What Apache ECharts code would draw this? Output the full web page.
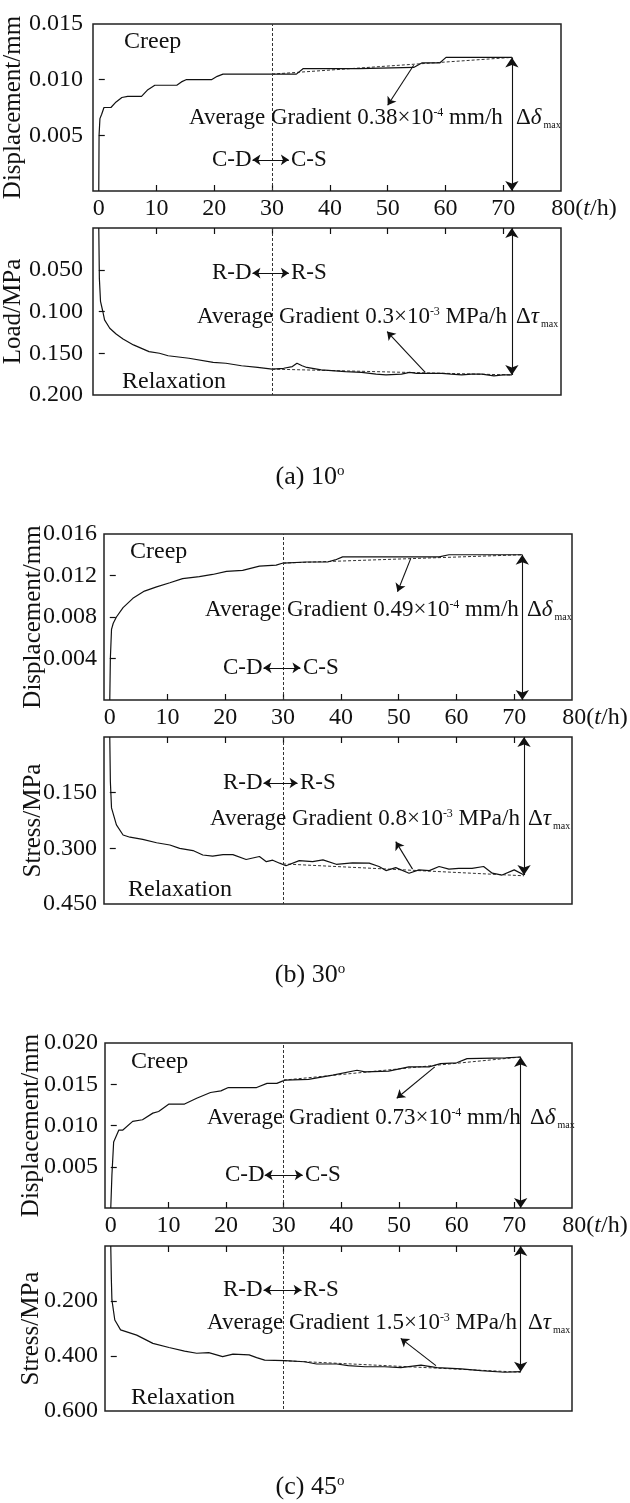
<!DOCTYPE html>
<html>
<head>
<meta charset="utf-8">
<script src="https://cdn.jsdelivr.net/npm/echarts@6/dist/echarts.min.js"></script>
<style>
  html, body { margin: 0; padding: 0; background: #fff; }
  #chart { width: 630px; height: 1503px; }
</style>
</head>
<body>
<div id="chart"></div>
<script>
// time axis (h)
const tLabels = [0, 10, 20, 30, 40, 50, 60, 70, 80];
const tTicks = [10, 20, 30, 40, 50, 60, 70];

// ---- (a) 10 deg ----
const creepA = [[0,0],[0.05,0.005],[0.2,0.0065],[0.5,0.0069],[0.9,0.0075],[2.1,0.0075],[3,0.0080],[4,0.0084],[5,0.0085],[7.4,0.0085],[8.5,0.0091],[9.7,0.0095],[13.5,0.0095],[14.3,0.0098],[15.1,0.0100],[19.5,0.0100],[20.5,0.0103],[21.5,0.0105],[34.2,0.0105],[35.4,0.0110],[45,0.0110],[54.5,0.0111],[55.9,0.0115],[59,0.0115],[60.1,0.0120],[71.5,0.0120]];
const creepTrendA = [[30,0.0105],[71.5,0.0120]];
const relaxA = [[0,0],[0.1,0.060],[0.3,0.088],[0.7,0.100],[1,0.110],[1.9,0.120],[3,0.127],[4.2,0.133],[6,0.140],[8.7,0.148],[10.5,0.150],[12,0.153],[15.6,0.156],[19.8,0.161],[22,0.162],[24.7,0.165],[27.5,0.167],[30,0.169],[32,0.168],[33.5,0.166],[34.3,0.162],[35.2,0.165],[36,0.167],[38.5,0.170],[42.7,0.172],[45.5,0.173],[48,0.175],[49.7,0.176],[52.4,0.175],[53.8,0.173],[55,0.174],[56.6,0.174],[59.4,0.174],[61,0.175],[62.8,0.176],[64.5,0.175],[66.3,0.175],[68.4,0.177],[70,0.176],[71.5,0.176]];
const relaxTrendA = [[30,0.169],[71.5,0.176]];
const creepYLabelsA = [0.005, 0.010, 0.015];
const creepYTicksA = [0.005, 0.010];
const relaxYLabelsA = [0.050, 0.100, 0.150, 0.200];
const relaxYTicksA = [0.050, 0.100, 0.150];

// ---- (b) 30 deg ----
const creepB = [[0,0],[0.1,0.004],[0.3,0.0068],[0.6,0.0074],[1.15,0.0080],[2.3,0.0089],[4,0.0098],[6,0.0105],[8.1,0.0109],[10.4,0.0113],[12.6,0.0117],[15.5,0.0119],[17.8,0.0121],[20.2,0.0124],[23,0.0125],[25.9,0.0129],[28.8,0.0130],[30,0.0132],[34,0.0133],[37.7,0.0133],[39,0.0135],[40.3,0.0138],[48.4,0.0138],[57,0.0138],[58.7,0.0140],[71.4,0.0140]];
const creepTrendB = [[30,0.0132],[71.4,0.0140]];
const relaxB = [[0,0],[0.1,0.120],[0.3,0.191],[1.15,0.237],[2.3,0.264],[3.5,0.270],[5.7,0.276],[8.1,0.285],[10.4,0.291],[12.1,0.300],[14.4,0.306],[16.1,0.318],[17.8,0.321],[19.6,0.317],[21.3,0.317],[23.6,0.330],[25.9,0.322],[27.1,0.336],[28.2,0.332],[29.4,0.340],[30.5,0.347],[32.8,0.333],[35.1,0.336],[36.9,0.331],[39.2,0.343],[42,0.339],[44.9,0.340],[46.6,0.349],[47.8,0.360],[49.5,0.352],[51.8,0.367],[53.5,0.358],[55.3,0.360],[57,0.349],[58.7,0.356],[60.4,0.354],[62.7,0.354],[64.7,0.349],[66.2,0.367],[67.9,0.372],[70,0.358],[71.7,0.372]];
const relaxTrendB = [[30,0.342],[71.7,0.374]];
const creepYLabelsB = [0.004, 0.008, 0.012, 0.016];
const creepYTicksB = [0.004, 0.008, 0.012];
const relaxYLabelsB = [0.150, 0.300, 0.450];
const relaxYTicksB = [0.150, 0.300];

// ---- (c) 45 deg ----
const creepC = [[0,0],[0.2,0.004],[0.5,0.0080],[1.4,0.00945],[2.1,0.00945],[3.8,0.0105],[5.5,0.0107],[7.3,0.0115],[8.3,0.0117],[10.1,0.0126],[12.8,0.0126],[14.9,0.0133],[17.3,0.0140],[19.1,0.0142],[20.4,0.0146],[25.3,0.0146],[27.1,0.0151],[28.8,0.0151],[30.2,0.0155],[34.3,0.0156],[38.5,0.0161],[42.7,0.0167],[44.1,0.0165],[48.2,0.0166],[51.7,0.0171],[55.2,0.0171],[57.2,0.0175],[60,0.0176],[61.8,0.0181],[68.5,0.0182],[71.1,0.0183]];
const creepTrendC = [[30,0.0155],[71.1,0.0183]];
const relaxC = [[0,0],[0.1,0.120],[0.2,0.196],[0.7,0.269],[1.7,0.305],[4.5,0.324],[7.3,0.354],[10.1,0.369],[12.8,0.382],[14.9,0.390],[17,0.388],[19.4,0.402],[21.2,0.393],[24,0.396],[25.3,0.406],[26.7,0.415],[30.2,0.417],[33.6,0.421],[35.7,0.429],[39.2,0.429],[41.2,0.435],[44.1,0.439],[47.5,0.439],[50.3,0.442],[53.8,0.433],[56.6,0.442],[60.8,0.447],[64.2,0.453],[68.3,0.459],[71.1,0.457]];
const relaxTrendC = [[30,0.417],[71.1,0.459]];
const creepYLabelsC = [0.005, 0.010, 0.015, 0.020];
const creepYTicksC = [0.005, 0.010, 0.015];
const relaxYLabelsC = [0.200, 0.400, 0.600];
const relaxYTicksC = [0.200, 0.400];

// annotation arrows: [from, to] in data coords
const deltaArrows = [
  [[71.5,0.0120],[71.5,0]], [[71.5,0],[71.5,0.176]],
  [[71.4,0.0140],[71.4,0]], [[71.7,0],[71.7,0.372]],
  [[71.1,0.0183],[71.1,0]], [[71.1,0],[71.1,0.457]]
];
const gradientPointers = [
  [[54.5,0.0113],[50,0.0077]], [[56.5,0.173],[49.9,0.124]],
  [[52.1,0.01365],[49.8,0.01044]], [[52.4,0.356],[49.5,0.282]],
  [[56.2,0.0171],[49.6,0.0133]], [[56.4,0.435],[50.3,0.336]]
];
const stageArrows = [
  [[26.6,0.0028],[32.9,0.0028]], [[26.6,0.054],[32.9,0.054]],
  [[26.6,0.0031],[33.0,0.0031]], [[26.6,0.124],[32.5,0.124]],
  [[26.7,0.0040],[33.3,0.0040]], [[26.5,0.160],[33.1,0.160]]
];

const FONT = 'Liberation Serif';
const INK = '#111';

// grid boxes [left, top, width, height]
const grids = [
  [93, 24, 468, 167], [93, 228, 468, 167],
  [104, 534, 468, 166], [104, 737, 468, 167],
  [105, 1043, 467, 165], [105, 1246, 467, 165]
];

const panels = [
  { creep: creepA, creepTrend: creepTrendA, relax: relaxA, relaxTrend: relaxTrendA, cMax: 0.015, rMax: 0.2,
    cLab: creepYLabelsA, cTick: creepYTicksA, rLab: relaxYLabelsA, rTick: relaxYTicksA,
    cName: 'Displacement/mm', rName: 'Load/MPa', gap: 67, lmargin: 10 },
  { creep: creepB, creepTrend: creepTrendB, relax: relaxB, relaxTrend: relaxTrendB, cMax: 0.016, rMax: 0.45,
    cLab: creepYLabelsB, cTick: creepYTicksB, rLab: relaxYLabelsB, rTick: relaxYTicksB,
    cName: 'Displacement/mm', rName: 'Stress/MPa', gap: 58, lmargin: 7 },
  { creep: creepC, creepTrend: creepTrendC, relax: relaxC, relaxTrend: relaxTrendC, cMax: 0.020, rMax: 0.6,
    cLab: creepYLabelsC, cTick: creepYTicksC, rLab: relaxYLabelsC, rTick: relaxYTicksC,
    cName: 'Displacement/mm', rName: 'Stress/MPa', gap: 61, lmargin: 7 }
];

const tickStyle = { inside: true, length: 6, lineStyle: { color: INK, width: 1.2 } };
const labelFont = { fontFamily: FONT, fontSize: 24, color: INK };

const option = {
  animation: false,
  backgroundColor: '#fff',
  grid: grids.map(g => ({ left: g[0], top: g[1], width: g[2], height: g[3], show: true,
    outerBoundsMode: 'none', containLabel: false,
    borderColor: '#222', borderWidth: 1.5, backgroundColor: 'transparent' })),
  xAxis: [], yAxis: [], series: [], graphic: []
};

panels.forEach((p, k) => {
  const gc = 2 * k, gr = 2 * k + 1;
  // creep x axis (bottom, labelled)
  option.xAxis.push({
    gridIndex: gc, type: 'value', min: -1, max: 80, position: 'bottom',
    axisLine: { show: false }, splitLine: { show: false },
    axisTick: Object.assign({ customValues: tTicks }, tickStyle),
    axisLabel: Object.assign({
      customValues: tLabels, margin: 6,
      formatter: v => v === 80 ? '{n|80}{p|(}{i|t}{p|/h)}' : String(v),
      rich: {
        n: { fontFamily: FONT, fontSize: 24, color: INK, padding: [0, 0, 0, 46] },
        p: { fontFamily: FONT, fontSize: 24, color: INK },
        i: { fontFamily: FONT, fontSize: 24, color: INK, fontStyle: 'italic' }
      }
    }, labelFont)
  });
  // relax x axis (top, ticks only)
  option.xAxis.push({
    gridIndex: gr, type: 'value', min: -1, max: 80, position: 'top',
    axisLine: { show: false }, splitLine: { show: false },
    axisTick: Object.assign({ customValues: tTicks }, tickStyle),
    axisLabel: { show: false }
  });
  const nameStyle = { fontFamily: FONT, fontSize: 25, color: INK };
  option.yAxis.push({
    gridIndex: gc, type: 'value', min: 0, max: p.cMax,
    axisLine: { show: false }, splitLine: { show: false },
    axisTick: Object.assign({ customValues: p.cTick }, tickStyle),
    axisLabel: Object.assign({ customValues: p.cLab, margin: p.lmargin, formatter: v => v.toFixed(3) }, labelFont),
    name: p.cName, nameLocation: 'middle', nameGap: p.gap, nameMoveOverlap: false, nameTextStyle: nameStyle
  });
  option.yAxis.push({
    gridIndex: gr, type: 'value', min: 0, max: p.rMax, inverse: true,
    axisLine: { show: false }, splitLine: { show: false },
    axisTick: Object.assign({ customValues: p.rTick }, tickStyle),
    axisLabel: Object.assign({ customValues: p.rLab, margin: p.lmargin, formatter: v => v.toFixed(3) }, labelFont),
    name: p.rName, nameLocation: 'middle', nameGap: p.gap, nameMoveOverlap: false, nameTextStyle: nameStyle
  });

  [[gc, p.creep, p.creepTrend, 2 * k], [gr, p.relax, p.relaxTrend, 2 * k + 1]].forEach(([gi, curve, trend, ai]) => {
    option.series.push({
      type: 'line', xAxisIndex: gi, yAxisIndex: gi, data: curve, symbol: 'none', z: 3,
      lineStyle: { color: INK, width: 1.2 },
      markLine: {
        silent: true, symbol: 'none', label: { show: false },
        lineStyle: { type: [3, 2], color: '#333', width: 1 },
        data: [{ xAxis: 30 }]
      }
    });
    option.series.push({
      type: 'line', xAxisIndex: gi, yAxisIndex: gi, data: trend, symbol: 'none', z: 2,
      lineStyle: { color: '#333', width: 1, type: [3, 2] },
      markLine: {
        silent: true, label: { show: false }, symbolSize: 9,
        lineStyle: { type: 'solid', color: INK, width: 1.1 },
        data: [
          [{ coord: deltaArrows[ai][0], symbol: 'arrow', symbolSize: 10 }, { coord: deltaArrows[ai][1], symbol: 'arrow', symbolSize: 10 }],
          [{ coord: gradientPointers[ai][0], symbol: 'none' }, { coord: gradientPointers[ai][1], symbol: 'arrow', symbolSize: 8 }],
          [{ coord: stageArrows[ai][0], symbol: 'arrow', symbolSize: 8 }, { coord: stageArrows[ai][1], symbol: 'arrow', symbolSize: 8 }]
        ]
      }
    });
  });
});

// text annotations
const txt = (x, y, text, extra) => ({
  type: 'text', x: x, y: y, z: 10,
  style: Object.assign({ text: text, fontFamily: FONT, fontSize: 23, fill: INK, verticalAlign: 'middle', align: 'left',
    rich: {
      t: { fontFamily: FONT, fontSize: 23, fill: INK },
      sup: { fontFamily: FONT, fontSize: 12, fill: INK, padding: [0, 0, 11, 0] },
      g: { fontFamily: FONT, fontSize: 23, fill: INK },
      gi: { fontFamily: FONT, fontSize: 23, fill: INK, fontStyle: 'italic' },
      sub: { fontFamily: FONT, fontSize: 10, fill: INK, padding: [15, 0, 0, 2] },
      o: { fontFamily: FONT, fontSize: 15, fill: INK, padding: [0, 0, 12, 0] },
      c: { fontFamily: FONT, fontSize: 26, fill: INK }
    } }, extra || {})
});

const gradTexts = [
  '{t|Average Gradient 0.38×10}{sup|-4}{t| mm/h}',
  '{t|Average Gradient 0.3×10}{sup|-3}{t| MPa/h}',
  '{t|Average Gradient 0.49×10}{sup|-4}{t| mm/h}',
  '{t|Average Gradient 0.8×10}{sup|-3}{t| MPa/h}',
  '{t|Average Gradient 0.73×10}{sup|-4}{t| mm/h}',
  '{t|Average Gradient 1.5×10}{sup|-3}{t| MPa/h}'
];
const layout = [
  { creep: [124, 42], avg: [189, 118], cd: [212, 291, 160], dd: [516, 118], rd: [212, 291, 273], avgR: [197, 317], dt: [516, 317], relax: [122, 382], cap: 477 },
  { creep: [130, 552], avg: [205, 610], cd: [223, 303, 668], dd: [527, 610], rd: [223, 300, 783], avgR: [210, 819], dt: [528, 819], relax: [128, 890], cap: 975 },
  { creep: [131, 1062], avg: [207, 1118], cd: [225, 305, 1175], dd: [530, 1118], rd: [223, 303, 1290], avgR: [207, 1323], dt: [528, 1323], relax: [131, 1398], cap: 1487 }
];
const captions = ['(a) 10', '(b) 30', '(c) 45'];

layout.forEach((L, k) => {
  const G = option.graphic;
  G.push(txt(L.creep[0], L.creep[1], 'Creep', { fontSize: 24 }));
  G.push(txt(L.avg[0], L.avg[1], gradTexts[2 * k]));
  G.push(txt(L.cd[0], L.cd[2], 'C-D'));
  G.push(txt(L.cd[1], L.cd[2], 'C-S'));
  G.push(txt(L.dd[0], L.dd[1], '{g|Δ}{gi|δ}{sub|max}'));
  G.push(txt(L.rd[0], L.rd[2], 'R-D'));
  G.push(txt(L.rd[1], L.rd[2], 'R-S'));
  G.push(txt(L.avgR[0], L.avgR[1], gradTexts[2 * k + 1]));
  G.push(txt(L.dt[0], L.dt[1], '{g|Δ}{gi|τ}{sub|max}'));
  G.push(txt(L.relax[0], L.relax[1], 'Relaxation', { fontSize: 24 }));
  G.push(txt(310, L.cap, '{c|' + captions[k] + '}{o|o}', { align: 'center' }));
});

const chart = echarts.init(document.getElementById('chart'), null, { renderer: 'canvas' });
chart.setOption(option);
</script>
</body>
</html>
